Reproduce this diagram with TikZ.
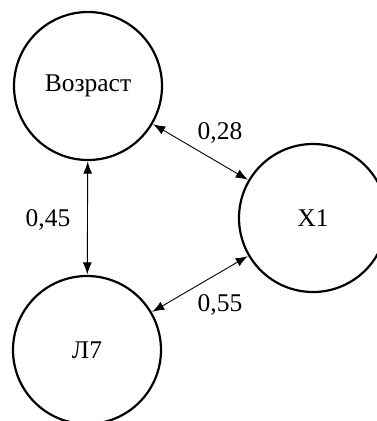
\documentclass[tikz,border=0pt]{standalone}
\usepackage{fontspec}
\setmainfont{Liberation Serif}
\usetikzlibrary{arrows.meta}
\begin{document}
\begin{tikzpicture}[x=1pt,y=-1pt,
  var/.style={draw,circle,line width=2.2pt,minimum size=148pt,inner sep=0pt,font=\fontsize{25.5}{30}\selectfont},
  lbl/.style={font=\fontsize{25.5}{30}\selectfont,inner sep=0pt},
  link/.style={line width=0.9pt,{Latex[length=12pt,width=9pt]}-{Latex[length=12pt,width=9pt]},shorten <=0.5pt,shorten >=0.5pt}]
\useasboundingbox (0,0) rectangle (377,421);
\clip (0,0) rectangle (377,421);
\node[var] (a) at (88,86) {Возраст};
\node[var] (x) at (313,218) {X1};
\node[var] (l) at (87,350) {Л7};
\draw[link] (a) -- (x);
\draw[link] (a) -- (l);
\draw[link] (l) -- (x);
\node[lbl] (t1) at (220,133) {0,28};
\node[lbl] (t2) at (220,305) {0,55};
\node[lbl] (t3) at (48,220) {0,45};
\end{tikzpicture}
\end{document}
